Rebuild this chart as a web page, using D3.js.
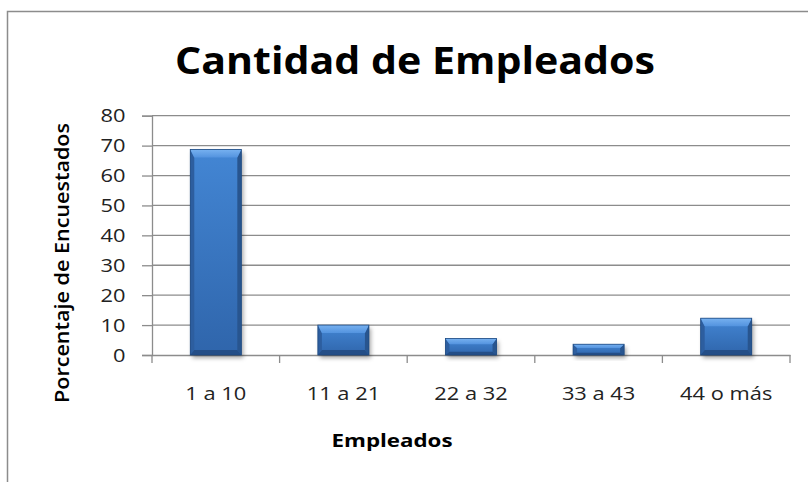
<!DOCTYPE html>
<meta charset="utf-8">
<head>
  <style>
    html, body { margin: 0; padding: 0; background: #fff; }
    svg { display: block; font-family: 'Open Sans', 'Noto Sans', sans-serif; }
  </style>
  <script src="https://d3js.org/d3.v7.min.js"></script>
</head>
<body>
  <div id="chart"></div>
  <script>
    // Data
    const categories = ["1 a 10", "11 a 21", "22 a 32", "33 a 43", "44 o más"];
    const values = [68.7, 10, 5.5, 3.6, 12.3];
    const yTicks = [0, 10, 20, 30, 40, 50, 60, 70, 80];

    const W = 808, H = 482;
    const plot = { left: 152, right: 790, top: 115.7, bottom: 355 };
    const font = "'Open Sans', 'Noto Sans', sans-serif";

    const svg = d3.select("#chart").append("svg")
      .attr("width", W)
      .attr("height", H);

    const defs = svg.append("defs");
    const body = defs.append("linearGradient").attr("id", "barBody")
      .attr("x1", 0).attr("y1", 0).attr("x2", 0).attr("y2", 1);
    body.append("stop").attr("offset", "0%").attr("stop-color", "#4386d4");
    body.append("stop").attr("offset", "100%").attr("stop-color", "#2f65ab");

    const topG = defs.append("linearGradient").attr("id", "barTop")
      .attr("x1", 0).attr("y1", 0).attr("x2", 0).attr("y2", 1);
    topG.append("stop").attr("offset", "0%").attr("stop-color", "#77b1f0");
    topG.append("stop").attr("offset", "100%").attr("stop-color", "#5393df");

    defs.append("filter").attr("id", "shadow")
      .attr("x", "-20%").attr("y", "-20%").attr("width", "140%").attr("height", "140%")
      .append("feGaussianBlur").attr("stdDeviation", 2);

    // outer chart frame
    svg.append("rect")
      .attr("x", 7.5).attr("y", 11.5)
      .attr("width", W).attr("height", H)
      .attr("fill", "none")
      .attr("stroke", "#8c8c8c")
      .attr("stroke-width", 1.5);

    // scales
    const x = d3.scaleBand()
      .domain(categories)
      .range([plot.left, plot.right])
      .padding(0);

    const y = d3.scaleLinear()
      .domain([0, 80])
      .range([plot.bottom, plot.top]);

    // gridlines + y axis
    const yAxis = svg.append("g")
      .attr("transform", `translate(${plot.left},0)`)
      .call(d3.axisLeft(y).tickValues(yTicks).tickSize(10).tickPadding(13));
    yAxis.select(".domain").attr("stroke", "#8c8c8c").attr("stroke-width", 1.3);
    yAxis.selectAll(".tick line").attr("stroke", "#8c8c8c").attr("stroke-width", 1.3);
    yAxis.selectAll(".tick text")
      .style("font-family", font)
      .style("font-size", "19px")
      .attr("transform", "scale(1.15,1)")
      .attr("fill", "#222");

    svg.append("g").selectAll("line")
      .data(yTicks.filter(d => d > 0))
      .join("line")
      .attr("x1", plot.left).attr("x2", plot.right)
      .attr("y1", d => y(d)).attr("y2", d => y(d))
      .attr("stroke", "#8c8c8c")
      .attr("stroke-width", 1.3);

    // x axis, ticks sit between categories
    const xAxis = svg.append("g")
      .attr("transform", `translate(0,${plot.bottom})`)
      .call(d3.axisBottom(x).tickSize(0).tickPadding(32));
    xAxis.select(".domain").attr("stroke", "#8c8c8c").attr("stroke-width", 1.3);
    xAxis.selectAll(".tick text")
      .style("font-family", font)
      .style("font-size", "19px")
      .attr("transform", "scale(1.15,1)")
      .attr("fill", "#222");
    const bounds = categories.map(c => x(c)).concat([x(categories[categories.length - 1]) + x.bandwidth()]);
    xAxis.selectAll(".xtick")
      .data(bounds)
      .join("line")
      .attr("class", "xtick")
      .attr("x1", d => d).attr("x2", d => d)
      .attr("y1", 0).attr("y2", 8)
      .attr("stroke", "#8c8c8c")
      .attr("stroke-width", 1.3);

    // bevelled bars
    const barW = x.bandwidth() * 0.4;
    svg.append("g").selectAll("g")
      .data(values.map((v, i) => ({ cat: categories[i], v: v })))
      .join("g")
      .each(function (d) {
        const g = d3.select(this);
        const x0 = x(d.cat) + (x.bandwidth() - barW) / 2;
        const y0 = y(d.v), h = y(0) - y(d.v), w = barW;
        const b = Math.min(8, h * 0.35), s = 4;
        const bb = Math.min(5, h * 0.2);

        g.append("rect")
          .attr("x", x0 + 2).attr("y", y0 + 3)
          .attr("width", w).attr("height", h)
          .attr("fill", "rgba(0,0,0,0.35)")
          .attr("filter", "url(#shadow)");

        g.append("rect")
          .attr("x", x0).attr("y", y0)
          .attr("width", w).attr("height", h)
          .attr("fill", "url(#barBody)");

        const poly = pts => pts.map(p => p.join(",")).join(" ");
        // left and right edges
        g.append("polygon")
          .attr("points", poly([[x0, y0], [x0 + s, y0 + b], [x0 + s, y0 + h - bb], [x0, y0 + h]]))
          .attr("fill", "#2d5e9f");
        g.append("polygon")
          .attr("points", poly([[x0 + w, y0], [x0 + w - s, y0 + b], [x0 + w - s, y0 + h - bb], [x0 + w, y0 + h]]))
          .attr("fill", "#28558f");
        // top highlight
        g.append("polygon")
          .attr("points", poly([[x0, y0], [x0 + w, y0], [x0 + w - s, y0 + b], [x0 + s, y0 + b]]))
          .attr("fill", "url(#barTop)");
        // bottom edge
        g.append("polygon")
          .attr("points", poly([[x0, y0 + h], [x0 + w, y0 + h], [x0 + w - s, y0 + h - bb], [x0 + s, y0 + h - bb]]))
          .attr("fill", "#244e87");
        g.append("rect")
          .attr("x", x0).attr("y", y0)
          .attr("width", w).attr("height", h)
          .attr("fill", "none")
          .attr("stroke", "#1f4a80")
          .attr("stroke-width", 0.8);
      });

    // title
    svg.append("text")
      .attr("x", 415)
      .attr("y", 74)
      .attr("text-anchor", "middle")
      .style("font-size", "38px")
      .style("font-weight", "bold")
      .attr("textLength", 480)
      .attr("lengthAdjust", "spacingAndGlyphs")
      .attr("fill", "#000")
      .text("Cantidad de Empleados");

    // axis titles
    svg.append("text")
      .attr("x", 392)
      .attr("y", 447)
      .attr("text-anchor", "middle")
      .style("font-size", "18px")
      .style("font-weight", "bold")
      .attr("textLength", 121)
      .attr("lengthAdjust", "spacingAndGlyphs")
      .attr("fill", "#000")
      .text("Empleados");

    svg.append("text")
      .attr("transform", "translate(69,263) rotate(-90)")
      .attr("text-anchor", "middle")
      .style("font-size", "19px")
      .style("font-weight", "600")
      .attr("textLength", 280)
      .attr("lengthAdjust", "spacingAndGlyphs")
      .attr("fill", "#000")
      .text("Porcentaje de Encuestados");
  </script>
</body>
